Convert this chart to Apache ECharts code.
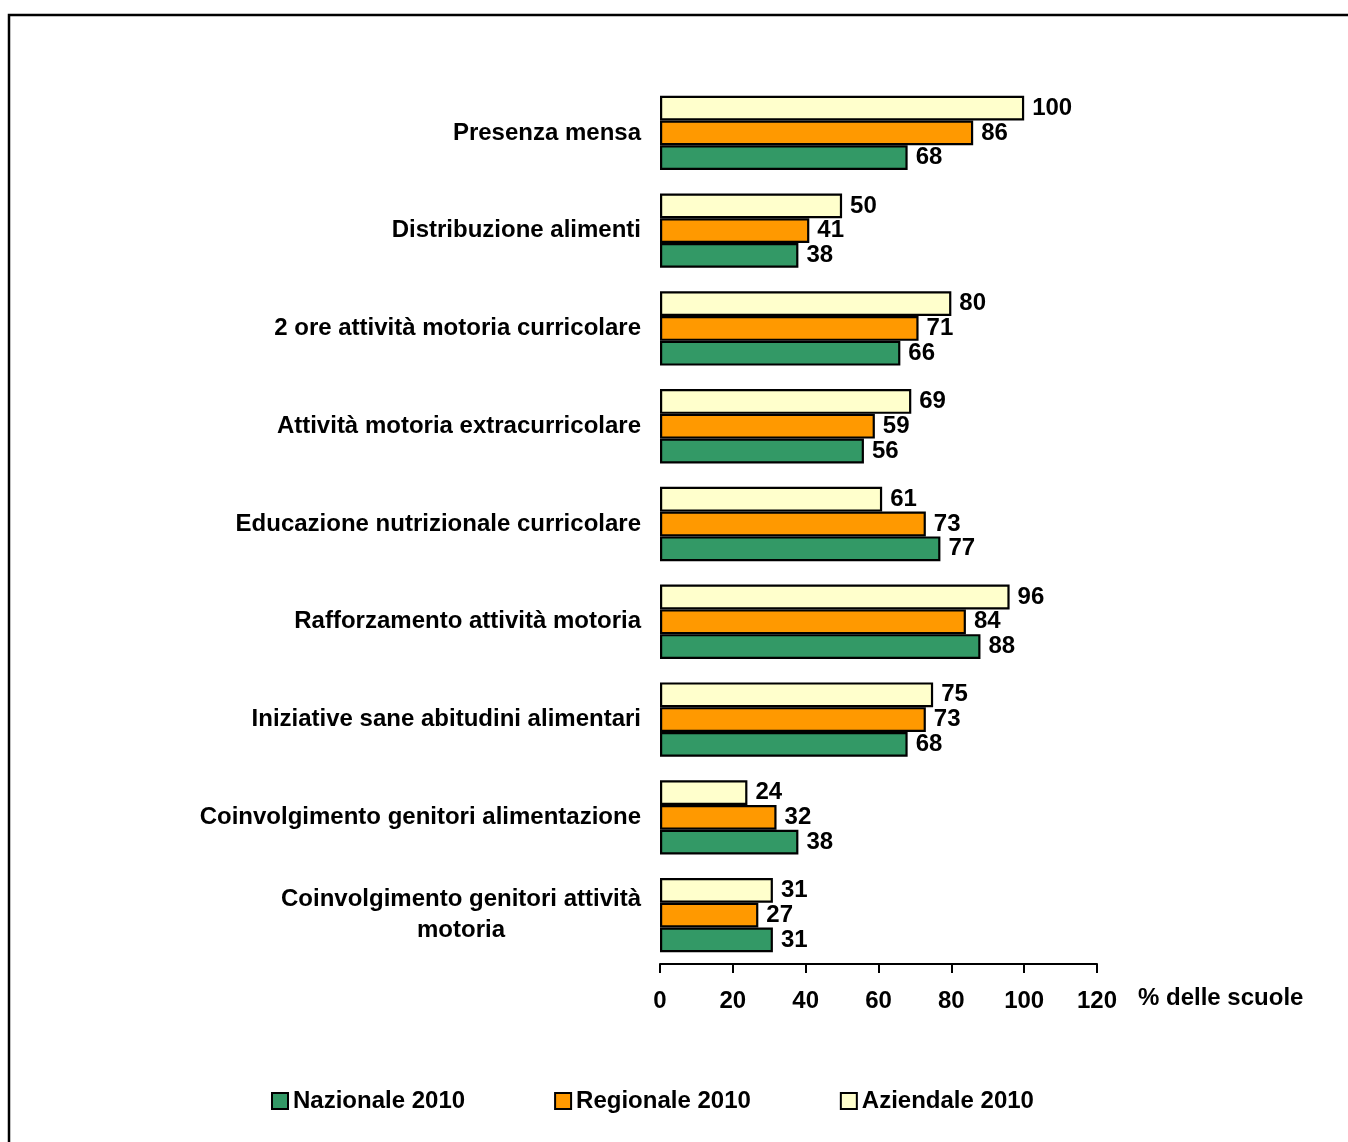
<!DOCTYPE html>
<html>
<head>
<meta charset="utf-8">
<script src="https://cdn.jsdelivr.net/npm/echarts@6/dist/echarts.min.js"></script>
<style>
html,body{margin:0;padding:0;background:#fff;}
#chart{width:1348px;height:1142px;}
</style>
</head>
<body>
<div id="chart"></div>
<script>
const categories = [
  'Presenza mensa',
  'Distribuzione alimenti',
  '2 ore attività motoria curricolare',
  'Attività motoria extracurricolare',
  'Educazione nutrizionale curricolare',
  'Rafforzamento attività motoria',
  'Iniziative sane abitudini alimentari',
  'Coinvolgimento genitori alimentazione',
  'Coinvolgimento genitori attività\nmotoria'
];
const nazionale = [68, 38, 66, 56, 77, 88, 68, 38, 31];
const regionale = [86, 41, 71, 59, 73, 84, 73, 32, 27];
const aziendale = [100, 50, 80, 69, 61, 96, 75, 24, 31];
const xTicks = { min: 0, max: 120, interval: 20 };
const seriesNames = ['Nazionale 2010', 'Regionale 2010', 'Aziendale 2010'];

const FONT = '"Liberation Sans", Arial, sans-serif';
const colors = { 'Nazionale 2010': '#339966', 'Regionale 2010': '#FF9900', 'Aziendale 2010': '#FFFFCC' };
const dataMap = { 'Nazionale 2010': nazionale, 'Regionale 2010': regionale, 'Aziendale 2010': aziendale };

function mkSeries(name) {
  return {
    name: name,
    type: 'bar',
    data: dataMap[name],
    barGap: '0%',
    barCategoryGap: '24%',
    itemStyle: { color: colors[name], borderColor: '#000', borderWidth: 2.2 },
    label: {
      show: true, position: 'right', distance: 8,
      color: '#000', fontFamily: FONT, fontWeight: 'bold', fontSize: 24
    },
    emphasis: { disabled: true }
  };
}

const chart = echarts.init(document.getElementById('chart'), null, { renderer: 'canvas' });
chart.setOption({
  animation: false,
  backgroundColor: '#fff',
  graphic: [{
    type: 'rect', silent: true,
    shape: { x: 9, y: 15, width: 1500, height: 1500 },
    style: { fill: 'none', stroke: '#000', lineWidth: 2.5 }
  }],
  grid: { left: 660, right: 251, top: 84, bottom: 178, containLabel: false },
  legend: {
    data: seriesNames,
    left: 271, top: 1089, padding: 0,
    itemWidth: 16, itemHeight: 16, itemGap: 89,
    icon: 'rect',
    itemStyle: { borderColor: '#000', borderWidth: 2 },
    textStyle: { fontFamily: FONT, fontWeight: 'bold', fontSize: 24, color: '#000' }
  },
  xAxis: {
    type: 'value',
    min: xTicks.min, max: xTicks.max, interval: xTicks.interval,
    name: '% delle scuole',
    nameLocation: 'end',
    nameGap: 41,
    nameTextStyle: { fontFamily: FONT, fontWeight: 'bold', fontSize: 24, color: '#000', verticalAlign: 'top', padding: [22, 0, 0, 0] },
    axisLine: { show: true, lineStyle: { color: '#000', width: 2 } },
    axisTick: { show: true, length: 9, lineStyle: { color: '#000', width: 2 } },
    axisLabel: { margin: 25, fontFamily: FONT, fontWeight: 'bold', fontSize: 24, color: '#000' },
    splitLine: { show: false }
  },
  yAxis: {
    type: 'category',
    data: categories,
    inverse: true,
    axisLine: { show: false },
    axisTick: { show: false },
    axisLabel: {
      margin: 19,
      fontFamily: FONT, fontWeight: 'bold', fontSize: 24, color: '#000',
      formatter: function (v) {
        if (v.indexOf('\n') >= 0) {
          return v.split('\n').map(function (s) { return '{c|' + s + '}'; }).join('\n');
        }
        return v;
      },
      rich: {
        c: { width: 360, align: 'center', fontFamily: FONT, fontWeight: 'bold', fontSize: 24, color: '#000', lineHeight: 31 }
      }
    },
    splitLine: { show: false }
  },
  series: [mkSeries('Aziendale 2010'), mkSeries('Regionale 2010'), mkSeries('Nazionale 2010')]
});
</script>
</body>
</html>
